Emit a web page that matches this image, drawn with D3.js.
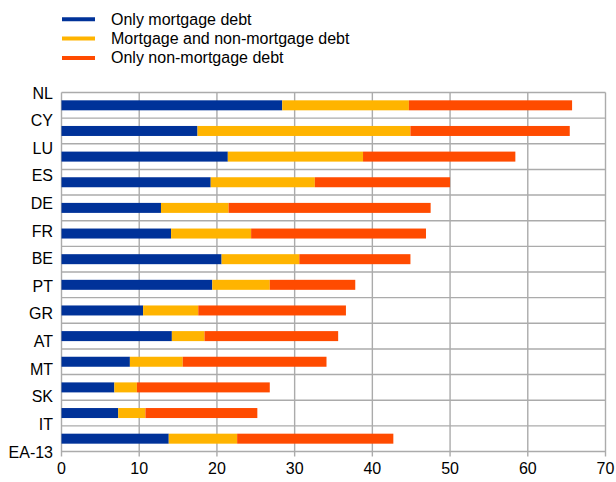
<!DOCTYPE html>
<html><head><meta charset="utf-8">
<script src="https://cdn.jsdelivr.net/npm/d3@7"></script>
<style>body{margin:0;background:#fff}svg{display:block}text{font-family:"Liberation Sans",Arial,sans-serif;fill:#000}</style>
</head><body><svg id="c" width="616" height="482"></svg>
<script>
const categories = ["NL","CY","LU","ES","DE","FR","BE","PT","GR","AT","MT","SK","IT","EA-13"];
const onlyMortgage   = [28.4,17.5,21.4,19.2,12.8,14.1,20.6,19.4,10.5,14.2, 8.8, 6.8, 7.3,13.8];
const mortgageAndNon = [16.3,27.4,17.4,13.4, 8.7,10.3,10.0, 7.4, 7.1, 4.2, 6.8, 2.9, 3.5, 8.8];
const onlyNonMortgage= [21.0,20.5,19.6,17.4,26.0,22.5,14.3,11.0,19.0,17.2,18.5,17.1,14.4,20.1];
const seriesNames = ["Only mortgage debt","Mortgage and non-mortgage debt","Only non-mortgage debt"];
const colors = ["#003299","#ffb400","#ff4b00"];
const xTicks = [0,10,20,30,40,50,60,70];

const svg = d3.select("#c");
const L = 61.5, R = 605.5, T = 92.5, B = 451.5;
const x = d3.scaleLinear().domain([0,70]).range([L,R]);
const y = d3.scaleBand().domain(categories).range([T,B]).paddingInner(0).paddingOuter(0);
const yl = d3.scalePoint().domain(categories).range([T+0.5,B+0.5]);

const rows = categories.map((c,i)=>({cat:c, vals:[onlyMortgage[i],mortgageAndNon[i],onlyNonMortgage[i]]}));
const stacked = d3.stack().keys([0,1,2]).value((d,k)=>d.vals[k])(rows);

const grid = svg.append("g");
grid.selectAll("line.v").data(xTicks).join("line")
  .attr("x1",d=>x(d)).attr("x2",d=>x(d))
  .attr("y1",T).attr("y2",B+5).attr("stroke","#ababab").attr("stroke-width",1.4);
const bounds = categories.map(c=>y(c)).concat([B]);
grid.selectAll("line.h").data(bounds).join("line")
  .attr("x1",L).attr("x2",R).attr("y1",d=>d).attr("y2",d=>d)
  .attr("stroke","#ababab").attr("stroke-width",1.4);

const bh = 10;
svg.append("g").selectAll("g").data(stacked).join("g").attr("fill",(d,i)=>colors[i])
  .selectAll("rect").data(d=>d).join("rect")
  .attr("x",d=>x(d[0])).attr("width",d=>x(d[1])-x(d[0]))
  .attr("y",d=>y(d.data.cat)+y.bandwidth()/2-bh/2).attr("height",bh);

svg.append("g").selectAll("text").data(xTicks).join("text")
  .attr("x",d=>x(d)).attr("y",468).attr("text-anchor","middle").attr("dominant-baseline","central")
  .attr("font-size",16).text(d=>d);
svg.append("g").selectAll("text").data(categories).join("text")
  .attr("x",53).attr("y",d=>yl(d)).attr("text-anchor","end").attr("dominant-baseline","central")
  .attr("font-size",16).text(d=>d);

const lg = svg.append("g").selectAll("g").data(seriesNames).join("g")
  .attr("transform",(d,i)=>`translate(0,${19.3+i*19.3})`);
lg.append("line").attr("x1",62).attr("x2",95).attr("y1",0).attr("y2",0)
  .attr("stroke",(d,i)=>colors[i]).attr("stroke-width",4);
lg.append("text").attr("x",111).attr("y",0).attr("dominant-baseline","central")
  .attr("font-size",16).text(d=>d);
</script></body></html>
